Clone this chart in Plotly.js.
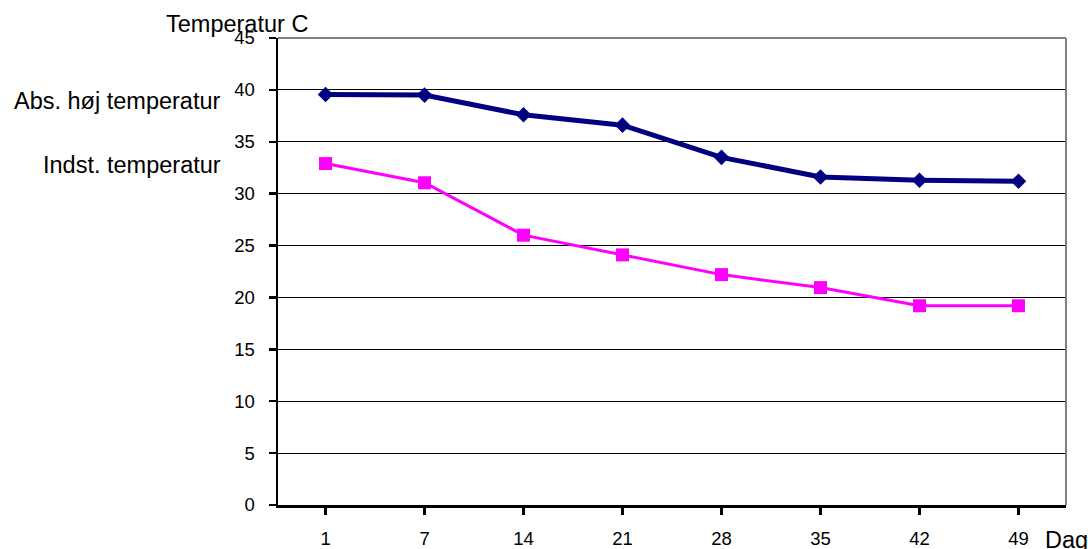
<!DOCTYPE html>
<html>
<head>
<meta charset="utf-8">
<script src="https://cdn.plot.ly/plotly-3.0.1.min.js"></script>
<style>html,body{margin:0;padding:0;background:#fff;}#chart{width:1088px;height:549px;}</style>
</head>
<body>
<div id="chart"></div>
<script>
var days = ["1", "7", "14", "21", "28", "35", "42", "49"];
var absHoj = [39.55, 39.5, 37.6, 36.6, 33.5, 31.6, 31.3, 31.2];
var indst = [32.9, 31.05, 26.0, 24.1, 22.2, 20.95, 19.2, 19.2];
var yTicks = [0, 5, 10, 15, 20, 25, 30, 35, 40, 45];

var traces = [
  {x: days, y: absHoj, type: 'scatter', mode: 'lines+markers', name: 'Abs. høj temperatur',
   line: {color: '#000080', width: 5}, marker: {symbol: 'diamond', size: 12, color: '#000080'}},
  {x: days, y: indst, type: 'scatter', mode: 'lines+markers', name: 'Indst. temperatur',
   line: {color: '#FF00FF', width: 3}, marker: {symbol: 'square', size: 13, color: '#FF00FF'}}
];

var fam = 'Liberation Sans, Arial, sans-serif';
var tickFont = {family: fam, size: 18.5, color: '#000'};
var labFont = {family: fam, size: 23.5, color: '#000'};
var layout = {
  width: 1088, height: 549,
  margin: {l: 278, r: 22, t: 38, b: 44, pad: 0},
  paper_bgcolor: '#fff', plot_bgcolor: '#fff',
  showlegend: false,
  font: tickFont,
  xaxis: {type: 'category', categoryorder: 'array', categoryarray: days,
    showline: true, linecolor: '#000', linewidth: 2.5, mirror: false,
    ticks: 'outside', ticklen: 7, tickwidth: 2.5, tickcolor: '#000',
    showgrid: false, zeroline: false, tickfont: tickFont, ticklabelstandoff: 8, fixedrange: true},
  yaxis: {range: [0, 45], tickvals: yTicks, ticktext: yTicks.map(String),
    showline: true, linecolor: '#000', linewidth: 2.5,
    ticks: 'outside', ticklen: 7, tickwidth: 2.5, tickcolor: '#000',
    showgrid: true, gridcolor: '#000', gridwidth: 1, zeroline: false, tickfont: tickFont,
    ticklabelstandoff: 10, fixedrange: true},
  shapes: [
    {type: 'line', xref: 'paper', yref: 'paper', x0: 0, x1: 1, y0: 1, y1: 1, line: {color: '#808080', width: 2}},
    {type: 'line', xref: 'paper', yref: 'paper', x0: 1, x1: 1, y0: 0, y1: 1, line: {color: '#808080', width: 2}}
  ],
  annotations: [
    {text: 'Temperatur C', xref: 'paper', yref: 'paper', x: (310 - 278) / 788, y: (505.5 - 24) / 467.2,
     xanchor: 'right', yanchor: 'middle', showarrow: false, font: labFont},
    {text: 'Abs. høj temperatur', xref: 'paper', yref: 'paper', x: (223 - 278) / 788, y: (505.5 - 101) / 467.2,
     xanchor: 'right', yanchor: 'middle', showarrow: false, font: labFont},
    {text: 'Indst. temperatur', xref: 'paper', yref: 'paper', x: (223 - 278) / 788, y: (505.5 - 165) / 467.2,
     xanchor: 'right', yanchor: 'middle', showarrow: false, font: labFont},
    {text: 'Dag', xref: 'paper', yref: 'paper', x: (1043 - 278) / 788, y: (505.5 - 541) / 467.2,
     xanchor: 'left', yanchor: 'middle', showarrow: false, font: labFont}
  ]
};

Plotly.newPlot('chart', traces, layout, {displayModeBar: false, staticPlot: true});
</script>
</body>
</html>
